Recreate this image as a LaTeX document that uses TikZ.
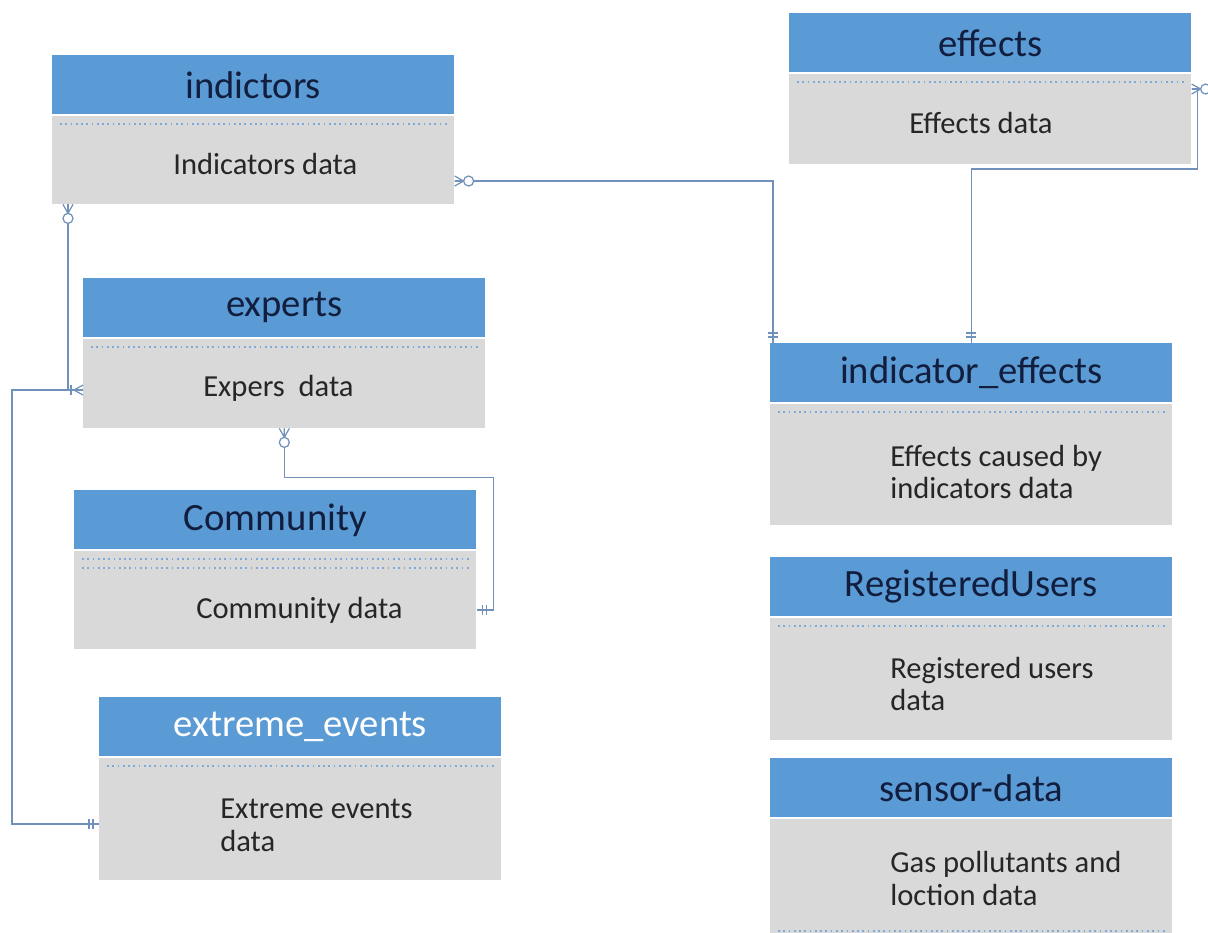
\documentclass[tikz,border=0pt]{standalone}
\usepackage{fontspec}
\setmainfont{Carlito}
\usetikzlibrary{positioning,calc}

\definecolor{kopfblau}{RGB}{91,155,213}
\definecolor{feldgrau}{RGB}{217,217,217}
\definecolor{kopftext}{RGB}{18,30,62}
\definecolor{feldtext}{RGB}{38,38,38}
\definecolor{linie}{RGB}{112,145,185}
\definecolor{punkt}{RGB}{125,170,220}

\tikzset{
  pics/nullviele/.style={code={
    \draw[linie,line width=0.7pt] (0,-5)--(9,0)--(0,5) (0,0)--(9,0);
    \draw[linie,line width=0.7pt,fill=white] (14,0) circle[radius=5];
  }},
  pics/einsviele/.style={code={
    \draw[linie,line width=0.7pt] (0,-5)--(9,0)--(0,5) (0,0)--(13,0);
    \draw[linie,line width=0.7pt] (12,-5)--(12,5);
  }},
  pics/genaueins/.style={code={
    \draw[linie,line width=0.7pt] (6,-5)--(6,5) (10,-5)--(10,5);
  }},
}

\begin{document}
\begin{tikzpicture}[x=0.02cm,y=-0.02cm,
  kopf/.style={fill=kopfblau,text=kopftext,minimum width=8.04cm,minimum height=1.18cm,
    inner sep=0pt,anchor=north west,font=\fontsize{22}{26}\selectfont},
  feld/.style={fill=feldgrau,minimum width=8.04cm,inner sep=0pt},
  txt/.style={align=left,text=feldtext,inner sep=0pt,font=\fontsize{17.4}{18.6}\selectfont},
  trenn/.style={punkt,dotted,line width=1pt},
  verb/.style={linie,line width=0.8pt}]

\useasboundingbox (0,0) rectangle (1208,933);

% Tabelle indictors
\node[kopf] (indH) at (52,55) {indictors};
\node[feld,minimum height=1.76cm,below=0.02cm of indH] (ind) {};
\node[txt,right=2.42cm of ind.west,yshift=-0.08cm] (indT) {Indicators data};
\draw[trenn] ([xshift=0.16cm,yshift=-0.16cm]ind.north west) -- ([xshift=-0.16cm,yshift=-0.16cm]ind.north east);

% Tabelle effects
\node[kopf] (effH) at (789,13) {effects};
\node[feld,minimum height=1.8cm,below=0.02cm of effH] (eff) {};
\node[txt,right=2.4cm of eff.west,yshift=-0.08cm] (effT) {Effects data};
\draw[trenn] ([xshift=0.16cm,yshift=-0.16cm]eff.north west) -- ([xshift=-0.16cm,yshift=-0.16cm]eff.north east);

% Tabelle experts
\node[kopf] (expH) at (83,278) {experts};
\node[feld,minimum height=1.78cm,below=0.02cm of expH] (exp) {};
\node[txt,right=2.4cm of exp.west,yshift=-0.09cm] (expT) {Expers\ \ data};
\draw[trenn] ([xshift=0.16cm,yshift=-0.16cm]exp.north west) -- ([xshift=-0.16cm,yshift=-0.16cm]exp.north east);

% Tabelle indicator_effects
\node[kopf] (ieH) at (770,343) {indicator\_effects};
\node[feld,minimum height=2.42cm,below=0.02cm of ieH] (ie) {};
\node[txt,right=2.4cm of ie.west,yshift=-0.15cm] (ieT) {Effects caused by\\indicators data};
\draw[trenn] ([xshift=0.16cm,yshift=-0.16cm]ie.north west) -- ([xshift=-0.16cm,yshift=-0.16cm]ie.north east);

% Tabelle Community
\node[kopf] (comH) at (74,490) {Community};
\node[feld,minimum height=1.96cm,below=0.02cm of comH] (com) {};
\node[txt,right=2.44cm of com.west,yshift=-0.2cm] (comT) {Community data};
\draw[trenn] ([xshift=0.16cm,yshift=-0.16cm]com.north west) -- ([xshift=-0.16cm,yshift=-0.16cm]com.north east);
\draw[trenn] ([xshift=0.16cm,yshift=-0.34cm]com.north west) -- ([xshift=-0.16cm,yshift=-0.34cm]com.north east);

% Tabelle RegisteredUsers
\node[kopf] (ruH) at (770,557) {RegisteredUsers};
\node[feld,minimum height=2.44cm,below=0.02cm of ruH] (ru) {};
\node[txt,right=2.4cm of ru.west,yshift=-0.1cm] (ruT) {Registered users\\data};
\draw[trenn] ([xshift=0.16cm,yshift=-0.16cm]ru.north west) -- ([xshift=-0.16cm,yshift=-0.16cm]ru.north east);

% Tabelle extreme_events
\node[kopf,text=white] (extH) at (99,697) {extreme\_events};
\node[feld,minimum height=2.44cm,below=0.02cm of extH] (ext) {};
\node[txt,right=2.42cm of ext.west,yshift=-0.12cm] (extT) {Extreme events\\data};
\draw[trenn] ([xshift=0.16cm,yshift=-0.16cm]ext.north west) -- ([xshift=-0.16cm,yshift=-0.16cm]ext.north east);

% Tabelle sensor-data
\node[kopf] (senH) at (770,758) {sensor-data};
\node[feld,minimum height=2.5cm,below=0.02cm of senH] (sen) {};
\node[txt,right=2.4cm of sen.west,yshift=0.06cm] (senT) {Gas pollutants and\\loction data};
\draw[trenn] ([xshift=0.16cm,yshift=-2.24cm]sen.north west) -- ([xshift=-0.16cm,yshift=-2.24cm]sen.north east);

% Verbindungen
\draw[verb] ([yshift=-0.42cm]ind.east) -| ([xshift=0.06cm]ieH.north west);
\draw[verb] ([yshift=0.6cm]eff.east) -- ++(6,0) -- ++(0,80) -| (ieH.north);
\draw[verb] ([xshift=0.32cm]ind.south west) |- ([yshift=-0.13cm]exp.west);
\draw[verb] ([yshift=-0.1cm]ext.west) -- ++(-87,0) |- ([yshift=-0.13cm]exp.west);
\draw[verb] (exp.south) -- ++(0,49) -- ++(209,0) |- ([yshift=-0.2cm]com.east);

% Kardinalitaeten
\pic at ([yshift=-0.42cm]ind.east) {nullviele};
\pic[rotate=-90] at ([xshift=0.32cm]ind.south west) {nullviele};
\pic at ([yshift=0.6cm]eff.east) {nullviele};
\pic[rotate=-90] at (exp.south) {nullviele};
\pic[rotate=180] at ([yshift=-0.13cm]exp.west) {einsviele};
\pic[rotate=90] at ([xshift=0.06cm]ieH.north west) {genaueins};
\pic[rotate=90] at (ieH.north) {genaueins};
\pic at ([yshift=-0.2cm]com.east) {genaueins};
\pic[rotate=180] at ([yshift=-0.1cm]ext.west) {genaueins};

\end{tikzpicture}
\end{document}
